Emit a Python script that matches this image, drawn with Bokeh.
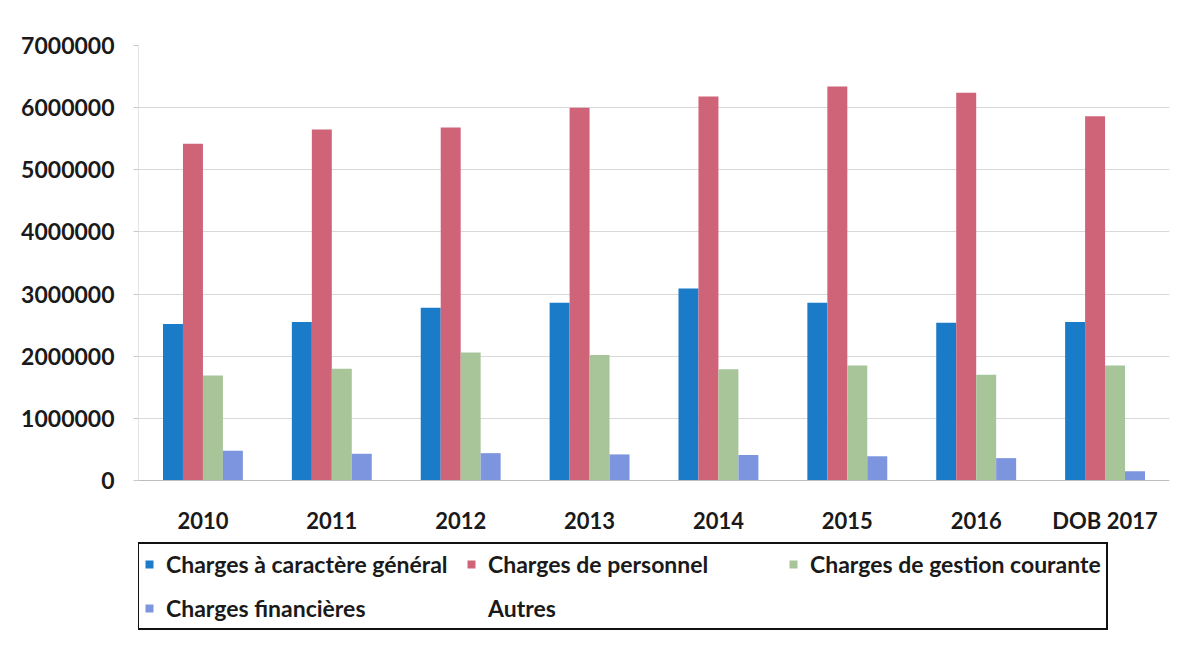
from bokeh.plotting import figure
from bokeh.models import (FactorRange, Range1d, ColumnDataSource, Legend, LegendItem,
                          FixedTicker, BasicTickFormatter)
from bokeh.transform import dodge
from bokeh.embed import file_html
from bokeh.resources import INLINE

# ---- data ----
years = ["2010", "2011", "2012", "2013", "2014", "2015", "2016", "DOB 2017"]
charges_generales = [2520000, 2550000, 2780000, 2860000, 3090000, 2860000, 2540000, 2550000]
charges_personnel = [5420000, 5650000, 5680000, 6000000, 6180000, 6340000, 6240000, 5860000]
charges_gestion = [1690000, 1800000, 2060000, 2020000, 1790000, 1850000, 1700000, 1850000]
charges_financieres = [480000, 430000, 440000, 420000, 410000, 390000, 360000, 150000]
series_labels = ["Charges à caractère général", "Charges de personnel",
                 "Charges de gestion courante", "Charges financières", "Autres"]
y_ticks = [0, 1000000, 2000000, 3000000, 4000000, 5000000, 6000000, 7000000]
y_max = 7000000

colors = ["#1a7bc9", "#cf6479", "#a8c59a", "#7d95de"]
FONT = "Lato"
TXT = "#1a1a1a"

# layout (pixels)
W, H = 1202, 647
TOP, LEFT, RIGHT = 45, 138, 33
ZERO_Y = 480          # pixel row of the value 0
FRAME_BOTTOM = 640
px_per_unit = (ZERO_Y - TOP) / y_max
y_start = -(FRAME_BOTTOM - ZERO_Y) / px_per_unit

src = ColumnDataSource(dict(year=years, gen=charges_generales, pers=charges_personnel,
                            gest=charges_gestion, fin=charges_financieres))

p = figure(x_range=FactorRange(*years), y_range=Range1d(y_start, y_max),
           width=W, height=H, output_backend="svg", toolbar_location=None,
           min_border_left=LEFT, min_border_right=RIGHT, min_border_top=TOP,
           min_border_bottom=H - FRAME_BOTTOM)
p.outline_line_color = None
p.background_fill_color = "white"
p.border_fill_color = "white"

bw = 0.155
offs = [-1.5 * bw, -0.5 * bw, 0.5 * bw, 1.5 * bw]
fields = ["gen", "pers", "gest", "fin"]
renderers = []
for f, o, c in zip(fields, offs, colors):
    r = p.vbar(x=dodge("year", o, range=p.x_range), top=f, width=bw, source=src,
               fill_color=c, line_color=None)
    renderers.append(r)
dummy = p.scatter(x=[], y=[], marker="square", fill_alpha=0, line_alpha=0)

# y axis line only over the value range (left edge of first category)
axsrc = ColumnDataSource(dict(f=[years[0]], y0=[0], y1=[y_max]))
p.segment(x0=dodge("f", -0.5, range=p.x_range), y0="y0",
          x1=dodge("f", -0.5, range=p.x_range), y1="y1", source=axsrc,
          line_color="#c8c8c8", line_width=1)

# axes
p.yaxis.ticker = FixedTicker(ticks=y_ticks)
p.yaxis.formatter = BasicTickFormatter(use_scientific=False)
p.yaxis.axis_line_color = None
p.yaxis.major_tick_line_color = "#c8c8c8"
p.yaxis.major_tick_out = 5
p.yaxis.major_tick_in = 0
p.yaxis.minor_tick_line_color = None
p.yaxis.major_label_standoff = 19
p.yaxis.major_label_text_font = FONT
p.yaxis.major_label_text_font_style = "bold"
p.yaxis.major_label_text_font_size = "23px"
p.yaxis.major_label_text_color = TXT

p.xaxis.fixed_location = 0
p.xaxis.axis_line_color = "#bdbdbd"
p.xaxis.major_tick_line_color = None
p.xaxis.major_label_standoff = 20
p.xaxis.major_label_text_font = FONT
p.xaxis.major_label_text_font_style = "bold"
p.xaxis.major_label_text_font_size = "22px"
p.xaxis.major_label_text_color = TXT

p.xgrid.grid_line_color = None
p.ygrid.ticker = FixedTicker(ticks=y_ticks)
p.ygrid.grid_line_color = "#d9d9d9"
p.ygrid.grid_line_width = 1

items = [LegendItem(label=series_labels[i], renderers=[renderers[i]]) for i in range(4)]
items.append(LegendItem(label=series_labels[4], renderers=[dummy]))
legend = Legend(items=items, orientation="horizontal", nrows=2,
                location=(-1, 10),
                label_text_font=FONT, label_text_font_style="bold",
                label_text_font_size="23px", label_text_color=TXT,
                glyph_width=10, glyph_height=10, label_standoff=12,
                label_width=286, label_height=30, spacing=14, padding=5,
                border_line_color="#111111", border_line_width=2, border_line_alpha=1.0,
                background_fill_color="white", background_fill_alpha=1.0,
                margin=0)
p.add_layout(legend, "center")

open("out.html", "w").write(file_html(p, INLINE))
